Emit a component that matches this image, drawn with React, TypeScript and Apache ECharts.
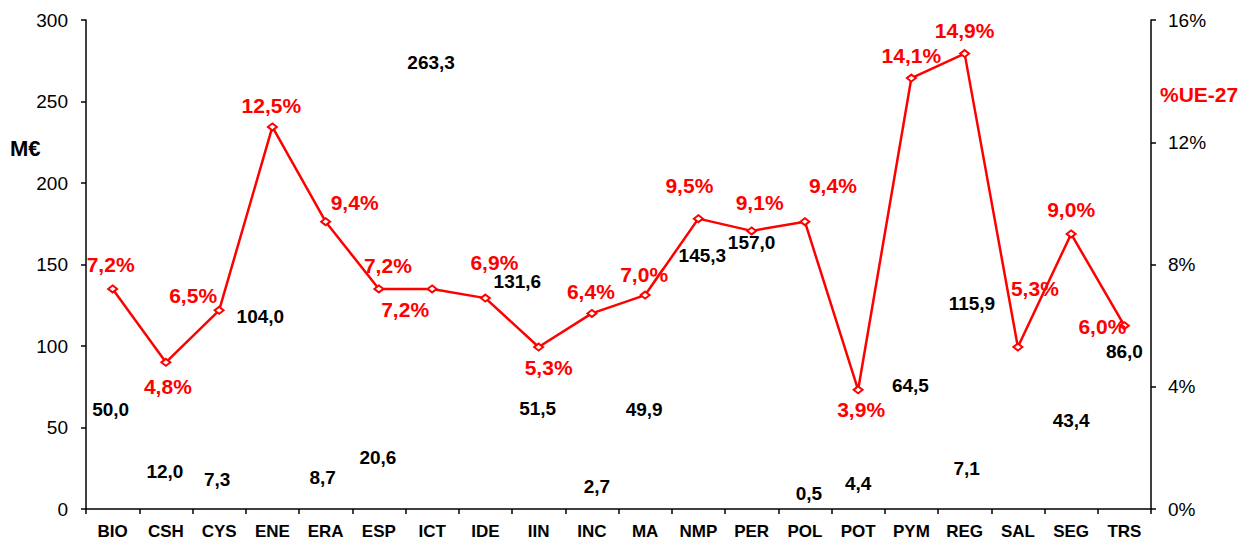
import React, { useEffect, useRef } from "react";
import * as echarts from "echarts";

const categories = ["BIO", "CSH", "CYS", "ENE", "ERA", "ESP", "ICT", "IDE", "IIN", "INC", "MA", "NMP", "PER", "POL", "POT", "PYM", "REG", "SAL", "SEG", "TRS"];
const fundingMEur = [50.0, 12.0, 7.3, 104.0, 8.7, 20.6, 263.3, 131.6, 51.5, 2.7, 49.9, 145.3, 157.0, 0.5, 4.4, 64.5, 7.1, 115.9, 43.4, 86.0];
const shareUE27 = [7.2, 4.8, 6.5, 12.5, 9.4, 7.2, 7.2, 6.9, 5.3, 6.4, 7.0, 9.5, 9.1, 9.4, 3.9, 14.1, 14.9, 5.3, 9.0, 6.0];
const leftTicks = { min: 0, max: 300, interval: 50 };
const rightTicks = { min: 0, max: 16, interval: 4 };

// label placement (pixel offsets from each point), kept apart from the data
const fundingLabelOffsets = [[-2, -18], [-1, -18], [-2, -18], [-12, -23], [-3, -17], [-1, -18], [-1, -17], [32, -13], [-1, -17], [5, -18], [-1, -18], [4, -17], [0, -11], [4, -15], [0, -18], [-1, -18], [2, -29], [-46, -17], [0, -18], [0, -17]];
const shareLabelOffsets = [[-2, -24], [2, 24], [-26, -15], [-1, -21], [29, -19], [9, -23], [-27, 21], [9, -36], [10, 20], [-1, -22], [-1, -21], [-9, -33], [8, -28], [28, -36], [3, 20], [0, -23], [0, -23], [17, -59], [0, -24], [-22, 1]];

const FONT = "'Liberation Sans', Arial, sans-serif";
const RED = "#FF0000";

const fmt1 = (v: number) => v.toFixed(1).replace(".", ",");

export default function App() {
  const ref = useRef<HTMLDivElement>(null);
  useEffect(() => {
    document.body.style.margin = "0";
    const chart = echarts.init(ref.current!, null, { renderer: "svg" });
    const axisLine = { show: true, lineStyle: { color: "#000", width: 1.5 } };
    const axisTick = { show: true, length: 5, lineStyle: { color: "#000", width: 1.5 } };
    chart.setOption({
      animation: false,
      backgroundColor: "#fff",
      grid: { left: 86, right: 90, top: 20, bottom: 31, containLabel: false },
      xAxis: {
        type: "category",
        data: categories,
        boundaryGap: true,
        axisLine,
        axisTick: { ...axisTick, alignWithLabel: false },
        axisLabel: { color: "#000", fontFamily: FONT, fontWeight: "bold", fontSize: 17, margin: 14, interval: 0 },
        splitLine: { show: false },
      },
      yAxis: [
        {
          type: "value",
          ...leftTicks,
          axisLine,
          axisTick,
          splitLine: { show: false },
          axisLabel: { color: "#000", fontFamily: FONT, fontSize: 19, margin: 18 },
        },
        {
          type: "value",
          ...rightTicks,
          position: "right",
          axisLine,
          axisTick,
          splitLine: { show: false },
          axisLabel: { color: "#000", fontFamily: FONT, fontSize: 19, margin: 17, formatter: "{value}%" },
        },
      ],
      graphic: [
        {
          type: "text",
          left: 10,
          top: 137,
          style: { text: "M€", fill: "#000", font: `bold 22px ${FONT}` },
        },
        {
          type: "text",
          left: 1160,
          top: 84,
          style: { text: "%UE-27", fill: RED, font: `bold 21px ${FONT}` },
        },
      ],
      series: [
        {
          type: "scatter",
          yAxisIndex: 0,
          symbolSize: 0,
          silent: true,
          z: 3,
          itemStyle: { opacity: 1, color: "#000" },
          data: fundingMEur.map((v, i) => ({
            value: v,
            label: { offset: fundingLabelOffsets[i] },
          })),
          label: {
            show: true,
            position: "inside",
            align: "center",
            verticalAlign: "middle",
            color: "#000",
            opacity: 1,
            textBorderWidth: 0,
            fontFamily: FONT,
            fontWeight: "bold",
            fontSize: 19,
            formatter: (p: any) => fmt1(p.value),
          },
        },
        {
          type: "line",
          yAxisIndex: 1,
          z: 4,
          symbol: "emptyDiamond",
          symbolSize: [9, 7],
          lineStyle: { color: RED, width: 2.5 },
          itemStyle: { color: RED, borderColor: RED, borderWidth: 1 },
          data: shareUE27.map((v, i) => ({
            value: v,
            label: { offset: shareLabelOffsets[i] },
          })),
          label: {
            show: true,
            position: "inside",
            align: "center",
            verticalAlign: "middle",
            color: RED,
            textBorderWidth: 0,
            fontFamily: FONT,
            fontWeight: "bold",
            fontSize: 21,
            formatter: (p: any) => fmt1(p.value) + "%",
          },
        },
      ],
    });
    return () => chart.dispose();
  }, []);
  return <div ref={ref} style={{ width: 1241, height: 540 }} />;
}
